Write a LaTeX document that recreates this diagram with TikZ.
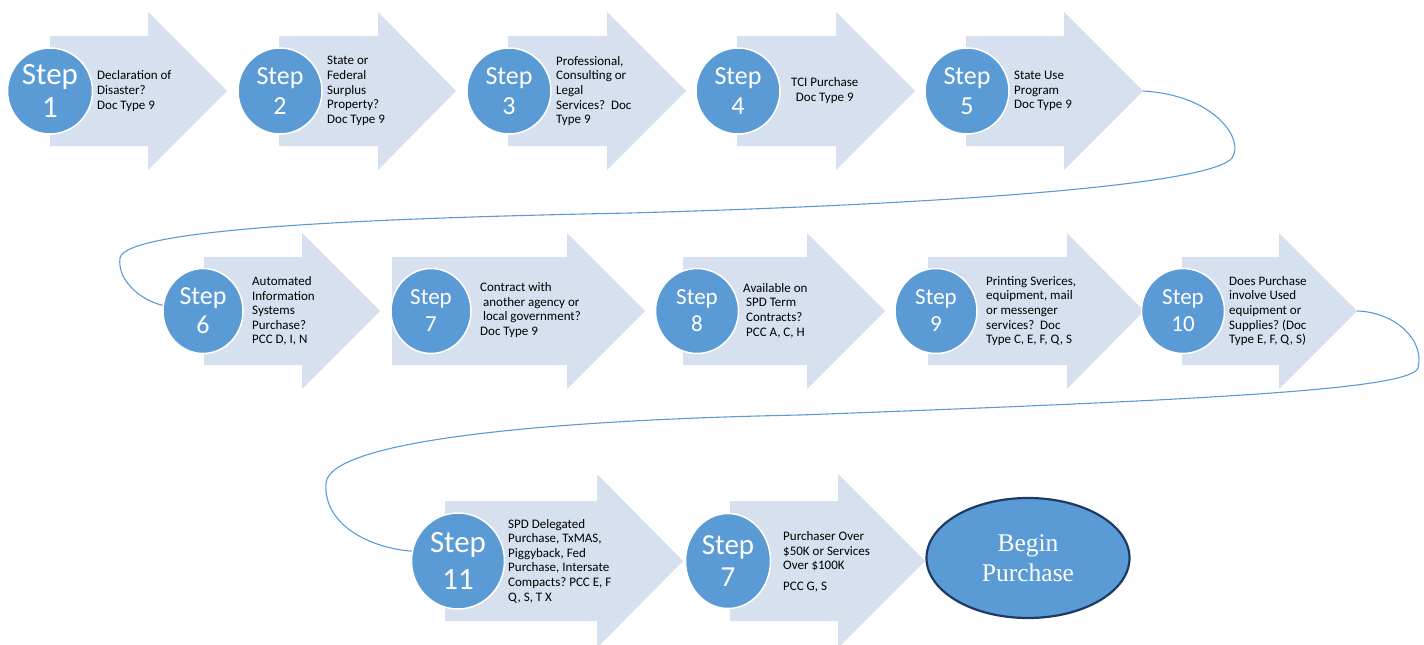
\documentclass[tikz,border=0pt]{standalone}
\usepackage{fontspec}
\setmainfont{Carlito}
\newfontfamily\beginfont{Liberation Serif}
\usepackage{tikz}
\usetikzlibrary{shapes.geometric}
\definecolor{arrowfill}{HTML}{D6E0EF}
\definecolor{stepblue}{HTML}{5B9BD5}
\definecolor{edgeblue}{HTML}{1F3864}
\frenchspacing

\tikzset{
 stepcircle/.style={ellipse, fill=stepblue, draw=white, line width=1.5pt, text=white, inner sep=0pt, align=center},
 desc/.style={anchor=west, align=left, inner sep=0pt, font=\fontsize{13}{14.6}\selectfont},
 link/.style={draw=stepblue, line width=1.1pt}
}

\begin{document}
\begin{tikzpicture}[x=1pt, y=-1pt]
\useasboundingbox (0,0) rectangle (1424,645);

\foreach \n/\l/\b/\t/\c/\h/\H in {1/50/148/227/91/55/79, 2/279/378/456/91/55/79, 3/508/607/686/91/55/79, 4/737/836/915/91/55/79, 5/966/1064/1143/91/55/79, 6/204/302/380/311/54/78, 7/392/567/645/311/54/78, 8/683/807/885/311/54/78, 9/928/1067/1144/311/54/78, 10/1182/1279/1357/311/54/78, 11/445/597/683/561/60/87, 12/730/838/925/561/60/87}
{
\fill[arrowfill] (\l,\c-\h) -- (\b,\c-\h) -- (\b,\c-\H) -- (\t,\c) -- (\b,\c+\H) -- (\b,\c+\h) -- (\l,\c+\h) -- cycle;
\coordinate (t\n) at (\t,\c);
}

\foreach \n/\x/\y/\w/\hh/\fs/\ls/\num in {1/50/91/85/86/31/33/1, 2/280/91/84/86/26/30/2, 3/509/91/84/86/26/30/3, 4/738/91/84/86/26/30/4, 5/967/91/84/86/26/30/5, 6/203/311/80/85/26/29/6, 7/431/311/80/85/23/27/7, 8/697/311/83/85/23/27/8, 9/936/311/82/85/23/27/9, 10/1183/311/83/85/23/27/10, 11/458/561/93/96/31/37/11, 12/728/561/85/95/29/32/7}
\node[stepcircle, minimum width=\w pt, minimum height=\hh pt, font=\fontsize{\fs}{\ls}\selectfont] (s\n) at (\x,\y) {Step\\\num};

\node[desc] (d1) at (97,91) {Declaration of\\Disaster?\\Doc Type 9};
\node[desc] (d2) at (327,91) {State or\\Federal\\Surplus\\Property?\\Doc Type 9};
\node[desc] (d3) at (556,91) {Professional,\\Consulting or\\Legal\\Services?~ Doc\\Type 9};
\node[desc, align=center] (d4) at (791,90.5) {TCI Purchase\\Doc Type 9};
\node[desc] (d5) at (1014,91) {State Use\\Program\\Doc Type 9};
\node[desc] (d6) at (252,311) {Automated\\Information\\Systems\\Purchase?\\PCC D, I, N};
\node[desc] (d7) at (480,310) {Contract with\\~another agency or\\~local government?\\Doc Type 9};
\node[desc] (d8) at (743,310.5) {Available on\\~SPD Term\\~Contracts?\\~PCC A, C, H};
\node[desc] (d9) at (986,311) {Printing Sverices,\\equipment, mail\\or messenger\\services?~ Doc\\Type C, E, F, Q, S};
\node[desc] (d10) at (1229,311) {Does Purchase\\involve Used\\equipment or\\Supplies? (Doc\\Type E, F, Q, S)};
\node[desc] (d11) at (508,561) {SPD Delegated\\Purchase, TxMAS,\\Piggyback, Fed\\Purchase, Intersate\\Compacts? PCC E, F\\Q, S, T X};
\node[desc] (d12) at (783,562) {Purchaser Over\\\$50K or Services\\Over \$100K\\[6pt]PCC G, S};

\node[ellipse, fill=stepblue, draw=edgeblue, line width=2.2pt, minimum width=203pt, minimum height=120pt, text=white, align=center, font=\beginfont\fontsize{25.5}{30}\selectfont] (begin) at (1028,558) {Begin\\Purchase};

\draw[link] (t5) .. controls (1215,95) and (1245,140) .. (1232,158) .. controls (1210,185) and (950,204) .. (630,213) .. controls (380,218) and (125,228) .. (120,258) .. controls (117,280) and (140,300) .. (s6.172);
\draw[link] (t10) .. controls (1395,312) and (1425,340) .. (1418,368) .. controls (1410,390) and (1200,400) .. (800,415) .. controls (550,420) and (330,440) .. (326,483) .. controls (323,525) and (370,548) .. (s11.168);

\end{tikzpicture}
\end{document}
